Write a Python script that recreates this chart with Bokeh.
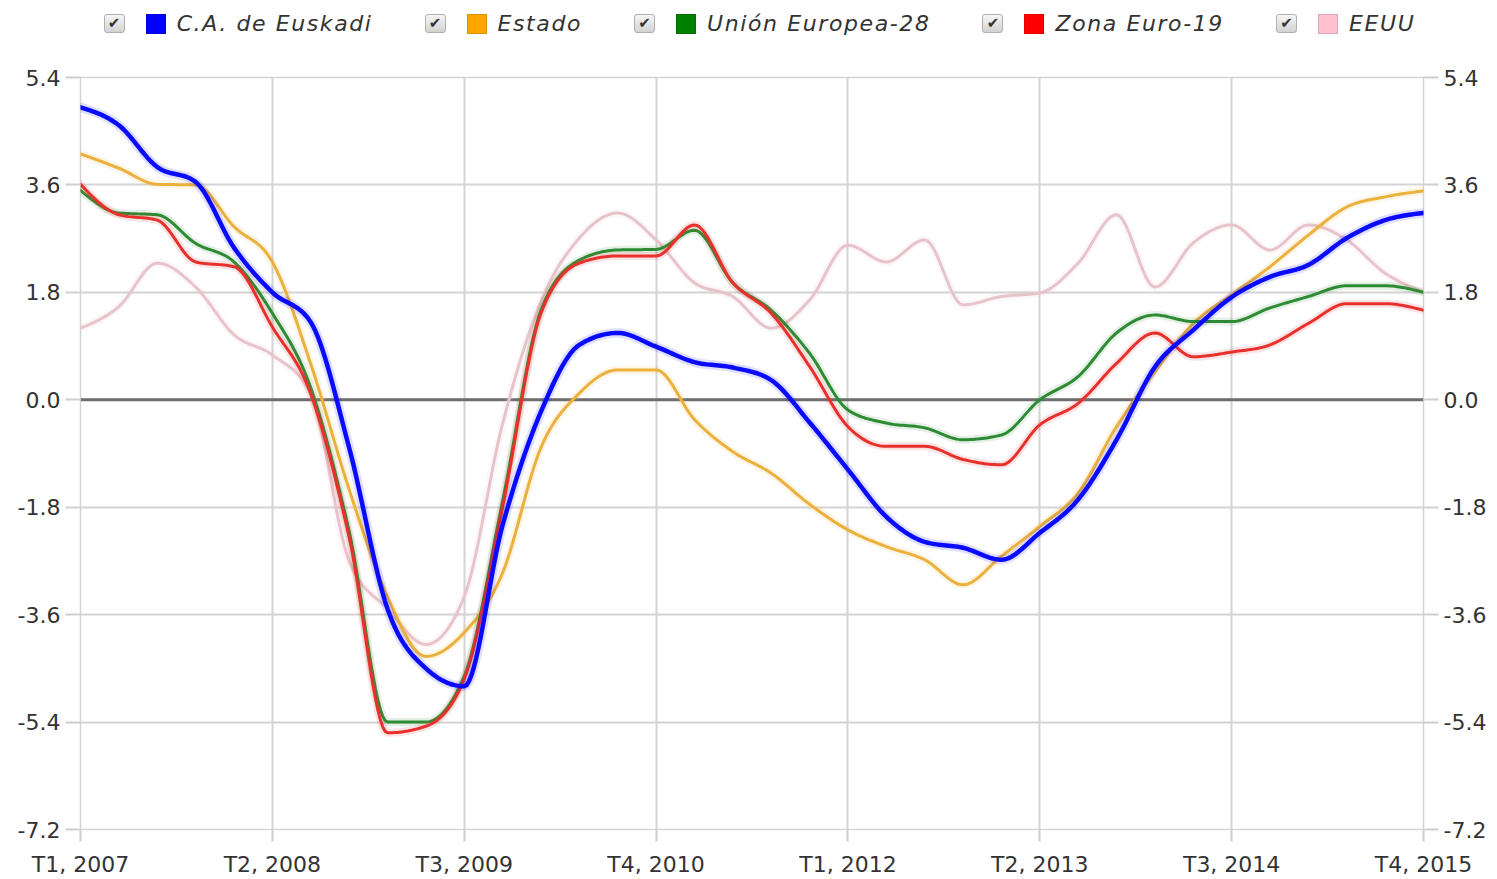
import numpy as np
from bokeh.plotting import figure
from bokeh.models import Range1d, LinearAxis, FixedTicker, PrintfTickFormatter, Span, Div, ColumnDataSource
from bokeh.layouts import column
from bokeh.embed import file_html
from bokeh.resources import INLINE

# ---------------- data ----------------
years = [2007, 2008, 2009, 2010, 2011, 2012, 2013, 2014, 2015]
quarters = ["T%d, %d" % (q, y) for y in years for q in (1, 2, 3, 4)]
tick_every = 5

euskadi = [4.9, 4.6, 3.9, 3.65, 2.55, 1.8, 1.3, -0.8, -3.5, -4.5, -4.8, -2.1,
           -0.2, 0.92, 1.12, 0.89, 0.63, 0.54, 0.33, -0.38, -1.17, -1.96, -2.38, -2.48,
           -2.68, -2.23, -1.67, -0.67, 0.55, 1.17, 1.72, 2.06, 2.26, 2.71, 3.01, 3.13]
estado = [4.12, 3.88, 3.61, 3.6, 2.9, 2.31, 0.6, -1.5, -3.3, -4.3, -3.9, -2.9,
          -0.8, 0.11, 0.5, 0.5, -0.33, -0.87, -1.23, -1.75, -2.18, -2.46, -2.68, -3.1,
          -2.62, -2.12, -1.56, -0.45, 0.47, 1.28, 1.76, 2.23, 2.76, 3.23, 3.4, 3.5]
ue28 = [3.51, 3.13, 3.1, 2.62, 2.31, 1.45, 0.2, -2.2, -5.4, -5.4, -4.63, -1.7,
        1.5, 2.34, 2.51, 2.52, 2.84, 1.96, 1.5, 0.78, -0.17, -0.39, -0.47, -0.67,
        -0.59, 0.0, 0.39, 1.12, 1.42, 1.31, 1.31, 1.54, 1.73, 1.91, 1.91, 1.8]
ze19 = [3.61, 3.1, 3.01, 2.31, 2.23, 1.22, 0.1, -2.3, -5.58, -5.47, -4.68, -1.8,
        1.45, 2.29, 2.41, 2.41, 2.93, 1.96, 1.45, 0.56, -0.45, -0.78, -0.78, -1.0,
        -1.09, -0.42, -0.06, 0.61, 1.12, 0.72, 0.8, 0.92, 1.28, 1.61, 1.61, 1.5]
eeuu = [1.2, 1.56, 2.29, 1.89, 1.09, 0.75, 0.1, -2.7, -3.5, -4.1, -3.3, -0.4,
        1.65, 2.71, 3.13, 2.68, 1.96, 1.73, 1.2, 1.67, 2.59, 2.31, 2.68, 1.59,
        1.73, 1.79, 2.29, 3.1, 1.89, 2.63, 2.93, 2.51, 2.93, 2.68, 2.12, 1.81]

names = ["C.A. de Euskadi", "Estado", "Unión Europea-28", "Zona Euro-19", "EEUU"]
series = [euskadi, estado, ue28, ze19, eeuu]
legend_colors = ["#0000ff", "#ffa500", "#008000", "#ff0000", "#ffc0cb"]
line_colors = ["#0a0aff", "#ecb03c", "#2e8b34", "#e8302c", "#e9c3cb"]
line_widths = [4.5, 3, 3, 3, 3]
draw_order = [4, 1, 2, 3, 0]

y_ticks = [-7.2, -5.4, -3.6, -1.8, 0.0, 1.8, 3.6, 5.4]


def monotone_curve(ys, n=16):
    """Monotone cubic (Fritsch-Carlson / d3 monotoneX) rendering of a series."""
    y = np.asarray(ys, float)
    x = np.arange(len(y), dtype=float)
    h = np.diff(x)
    s = np.diff(y) / h
    t = np.zeros_like(y)
    for i in range(1, len(y) - 1):
        s0, s1 = s[i - 1], s[i]
        h0, h1 = h[i - 1], h[i]
        pp = (s0 * h1 + s1 * h0) / (h0 + h1)
        t[i] = (np.sign(s0) + np.sign(s1)) * min(abs(s0), abs(s1), 0.5 * abs(pp))
    t[0] = (3 * s[0] - t[1]) / 2
    t[-1] = (3 * s[-1] - t[-2]) / 2
    xo, yo = [], []
    u = np.linspace(0, 1, n, endpoint=False)
    for i in range(len(y) - 1):
        h00 = 2 * u**3 - 3 * u**2 + 1
        h10 = u**3 - 2 * u**2 + u
        h01 = -2 * u**3 + 3 * u**2
        h11 = u**3 - u**2
        xo.extend(x[i] + u * h[i])
        yo.extend(h00 * y[i] + h10 * h[i] * t[i] + h01 * y[i + 1] + h11 * h[i] * t[i + 1])
    xo.append(x[-1])
    yo.append(y[-1])
    return xo, yo


# ---------------- figure ----------------
n = len(quarters)
p = figure(width=1497, height=825, x_range=Range1d(0, n - 1), y_range=Range1d(-7.2, 5.4),
           output_backend="svg", toolbar_location=None,
           min_border_left=80, min_border_right=74, min_border_top=23, min_border_bottom=49,
           background_fill_color="white", border_fill_color="white")
p.outline_line_color = "#d4d4d4"
p.outline_line_width = 1.5

x_tick_pos = list(range(0, n, tick_every))
p.xaxis.ticker = FixedTicker(ticks=x_tick_pos)
p.xaxis.major_label_overrides = {i: quarters[i] for i in x_tick_pos}
p.yaxis.ticker = FixedTicker(ticks=y_ticks)
p.yaxis.formatter = PrintfTickFormatter(format="%.1f")

right_axis = LinearAxis(ticker=FixedTicker(ticks=y_ticks), formatter=PrintfTickFormatter(format="%.1f"))
p.add_layout(right_axis, "right")

for ax in p.axis:
    ax.axis_line_color = None
    ax.minor_tick_line_color = None
    ax.major_tick_line_color = "#cfcfcf"
    ax.major_tick_line_width = 2
    ax.major_tick_in = 0
    ax.major_label_text_font = "DejaVu Sans"
    ax.major_label_text_font_size = "22px"
    ax.major_label_text_color = "#333333"

p.xaxis.major_tick_out = 12
p.xaxis.major_label_standoff = 10
p.yaxis.major_tick_out = 15
p.yaxis.major_label_standoff = 5
right_axis.major_tick_out = 15
right_axis.major_label_standoff = 5

p.xgrid.grid_line_color = "#d4d4d4"
p.xgrid.grid_line_width = 2
p.ygrid.grid_line_color = "#d4d4d4"
p.ygrid.grid_line_width = 2

zero = Span(location=0, dimension="width", line_color="#6e6e6e", line_width=3, level="underlay")
p.add_layout(zero)

for k in draw_order:
    xs, ys = monotone_curve(series[k])
    src = ColumnDataSource(dict(x=xs, y=ys))
    p.line("x", "y", source=src, line_color=line_colors[k], line_width=line_widths[k] + 5,
           line_alpha=0.13, line_join="round", line_cap="round")
    p.line("x", "y", source=src, line_color=line_colors[k], line_width=line_widths[k],
           line_join="round", line_cap="round")

# ---------------- legend ----------------
check_box = ('<span style="display:inline-block;box-sizing:border-box;width:21px;height:19px;'
             'border:1px solid #b0b0b0;border-radius:3px;background:linear-gradient(#f6f6f6,#d2d2d2);'
             'font-size:15px;line-height:17px;text-align:center;color:#333333;font-style:normal;'
             'letter-spacing:0;">&#10004;</span>')
items = []
for name, col in zip(names, legend_colors):
    items.append(
        '<span style="display:inline-flex;align-items:center;">' + check_box +
        '<span style="display:inline-block;box-sizing:border-box;width:20px;height:20px;margin-left:21px;'
        'margin-right:11px;background:%s;border:1px solid rgba(0,0,0,0.12);"></span>' % col +
        '<span>%s</span></span>' % name)
legend_html = ('<div style="display:flex;justify-content:center;align-items:center;gap:52px;'
               'box-sizing:border-box;padding-left:22px;'
               'width:1497px;height:48px;font-family:\'DejaVu Sans\';font-style:italic;font-size:22px;'
               'color:#333333;letter-spacing:1.6px;white-space:nowrap;">' + "".join(items) + '</div>')
legend_div = Div(text=legend_html, width=1497, height=54, margin=(0, 0, 0, 0))

layout = column(legend_div, p, spacing=0)
open("out.html", "w").write(file_html(layout, INLINE))
